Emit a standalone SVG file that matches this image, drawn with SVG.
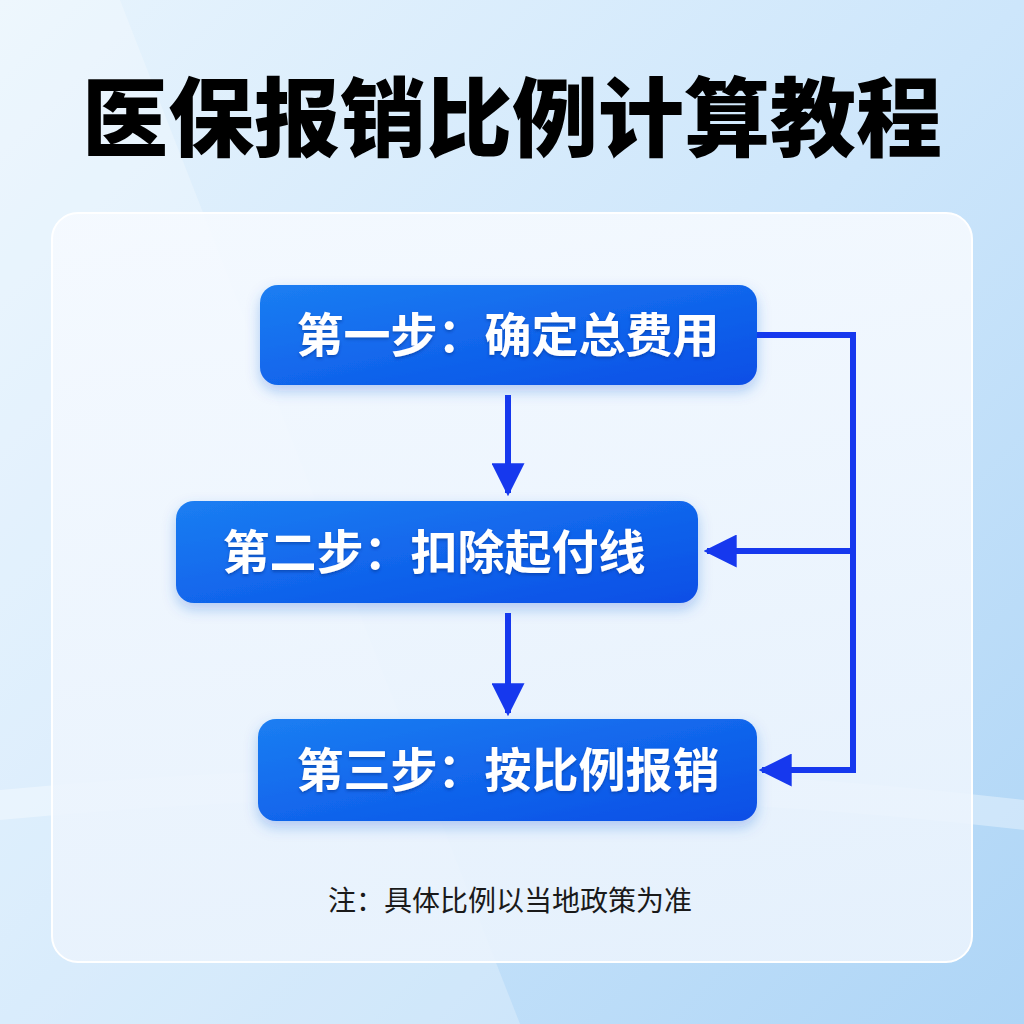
<svg xmlns="http://www.w3.org/2000/svg" width="1024" height="1024" viewBox="0 0 1024 1024">
<defs>
<linearGradient id="bg" x1="0" y1="0" x2="1" y2="1">
<stop offset="0" stop-color="#e8f4fd"/>
<stop offset="0.5" stop-color="#cde6fb"/>
<stop offset="1" stop-color="#aed5f6"/>
</linearGradient>
<linearGradient id="panel" x1="0" y1="0" x2="0" y2="1">
<stop offset="0" stop-color="#f6faff" stop-opacity="0.9"/>
<stop offset="1" stop-color="#eaf3fd" stop-opacity="0.9"/>
</linearGradient>
<linearGradient id="box" x1="0" y1="0" x2="1" y2="1">
<stop offset="0" stop-color="#1b7ef2"/>
<stop offset="1" stop-color="#084ee6"/>
</linearGradient>
<filter id="sh" x="-10%" y="-20%" width="120%" height="150%">
<feDropShadow dx="0" dy="6" stdDeviation="7" flood-color="#1a5fd8" flood-opacity="0.3"/>
</filter>
<filter id="tsh" x="-5%" y="-20%" width="110%" height="150%">
<feDropShadow dx="0" dy="2" stdDeviation="1.5" flood-color="#06308a" flood-opacity="0.5"/>
</filter>
<marker id="ah" viewBox="0 0 10 10" refX="9" refY="5" markerWidth="5.5" markerHeight="5.5" orient="auto" markerUnits="strokeWidth">
<path d="M0,0 L10,5 L0,10 Z" fill="#1638ee"/>
</marker>
</defs>
<style>
.title{font-family:"Noto Sans CJK SC","Noto Sans CJK JP",sans-serif;font-weight:900;font-size:86px;fill:#000;}
.lbl{font-family:"Noto Sans CJK SC","Noto Sans CJK JP",sans-serif;font-weight:700;font-size:47px;fill:#fff;}
.note{font-family:"Noto Sans CJK SC","Noto Sans CJK JP",sans-serif;font-weight:400;font-size:28px;fill:#1a1a1a;}
.conn{fill:none;stroke:#1638ee;stroke-width:6;}
</style>
<rect width="1024" height="1024" fill="url(#bg)"/>
<path d="M0,0 L120,0 L520,1024 L0,1024 Z" fill="#ffffff" opacity="0.25"/>
<path d="M0,790 Q512,740 1024,800 L1024,830 Q512,770 0,820 Z" fill="#ffffff" opacity="0.35"/>
<rect x="52" y="213" width="920" height="749" rx="26" fill="url(#panel)" stroke="#ffffff" stroke-width="2"/>
<text class="title" x="512" y="150" text-anchor="middle">医保报销比例计算教程</text>
<g id="connectors">
<line class="conn" x1="508" y1="395" x2="508" y2="493" marker-end="url(#ah)"/>
<line class="conn" x1="508" y1="613" x2="508" y2="713" marker-end="url(#ah)"/>
<polyline class="conn" points="757,335 853,335 853,770 762,770" marker-end="url(#ah)"/>
<line class="conn" x1="853" y1="551" x2="707" y2="551" marker-end="url(#ah)"/>
</g>
<g id="step1">
<rect x="260" y="285" width="497" height="100" rx="18" fill="url(#box)" filter="url(#sh)"/>
<text class="lbl" x="508" y="352" text-anchor="middle" filter="url(#tsh)">第一步：确定总费用</text>
</g>
<g id="step2">
<rect x="176" y="501" width="522" height="102" rx="18" fill="url(#box)" filter="url(#sh)"/>
<text class="lbl" x="434" y="569" text-anchor="middle" filter="url(#tsh)">第二步：扣除起付线</text>
</g>
<g id="step3">
<rect x="258" y="719" width="499" height="102" rx="18" fill="url(#box)" filter="url(#sh)"/>
<text class="lbl" x="508" y="787" text-anchor="middle" filter="url(#tsh)">第三步：按比例报销</text>
</g>
<text class="note" x="510" y="911" text-anchor="middle">注：具体比例以当地政策为准</text>
</svg>
